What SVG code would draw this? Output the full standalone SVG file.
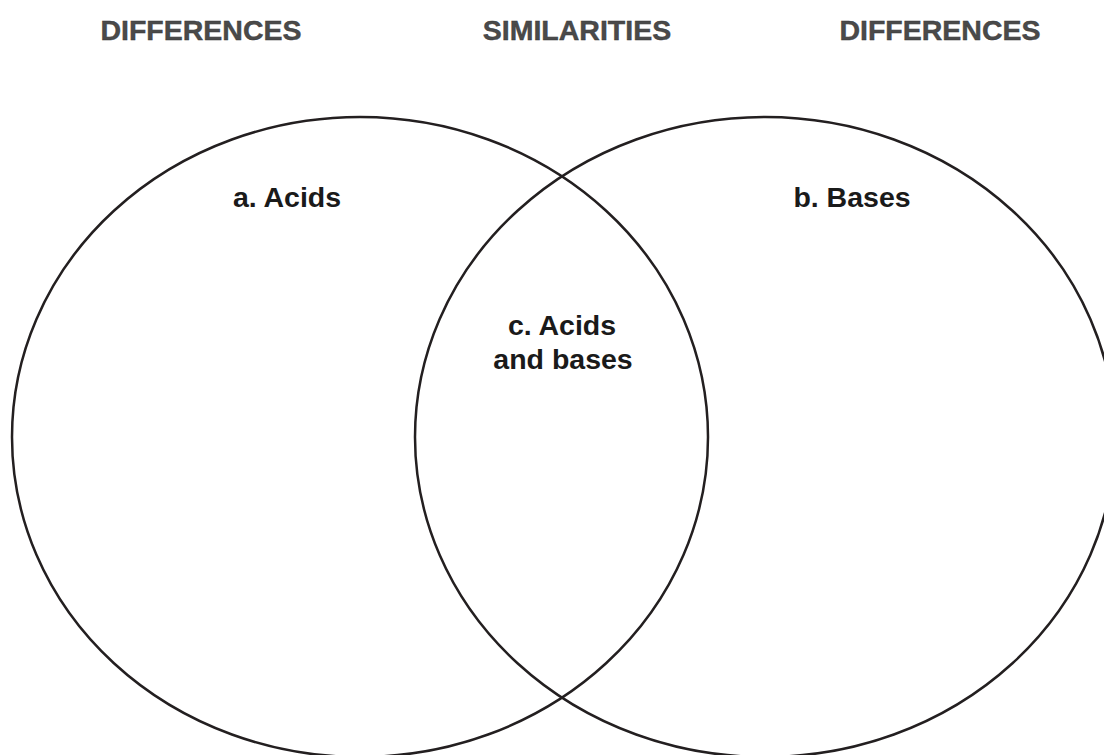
<svg xmlns="http://www.w3.org/2000/svg" width="1104" height="755" viewBox="0 0 1104 755">
  <style>
    .hdr { font-family: "Liberation Sans", Arial, sans-serif; font-weight: bold; font-size: 28.5px; fill: #4a4a4a; stroke: #333; stroke-width: 0.4; text-anchor: middle; }
    .lbl { font-family: "Liberation Sans", Arial, sans-serif; font-weight: bold; font-size: 28.5px; fill: #1a1a1a; text-anchor: middle; }
    .ring { fill: none; stroke: #231f20; stroke-width: 2.5; }
  </style>
  <rect width="1104" height="755" fill="#ffffff"/>
  <g id="headers">
    <text class="hdr" x="201" y="40">DIFFERENCES</text>
    <text class="hdr" x="577" y="40">SIMILARITIES</text>
    <text class="hdr" x="940" y="40">DIFFERENCES</text>
  </g>
  <g id="circle-a">
    <ellipse class="ring" cx="360" cy="437" rx="348" ry="320"/>
    <text class="lbl" x="287" y="207">a. Acids</text>
  </g>
  <g id="circle-b">
    <ellipse class="ring" cx="765" cy="437" rx="350" ry="320"/>
    <text class="lbl" x="852" y="207">b. Bases</text>
  </g>
  <g id="overlap-c">
    <text class="lbl" x="562" y="335">c. Acids</text>
    <text class="lbl" x="563" y="369">and bases</text>
  </g>
  <g id="connectors"></g>
</svg>
